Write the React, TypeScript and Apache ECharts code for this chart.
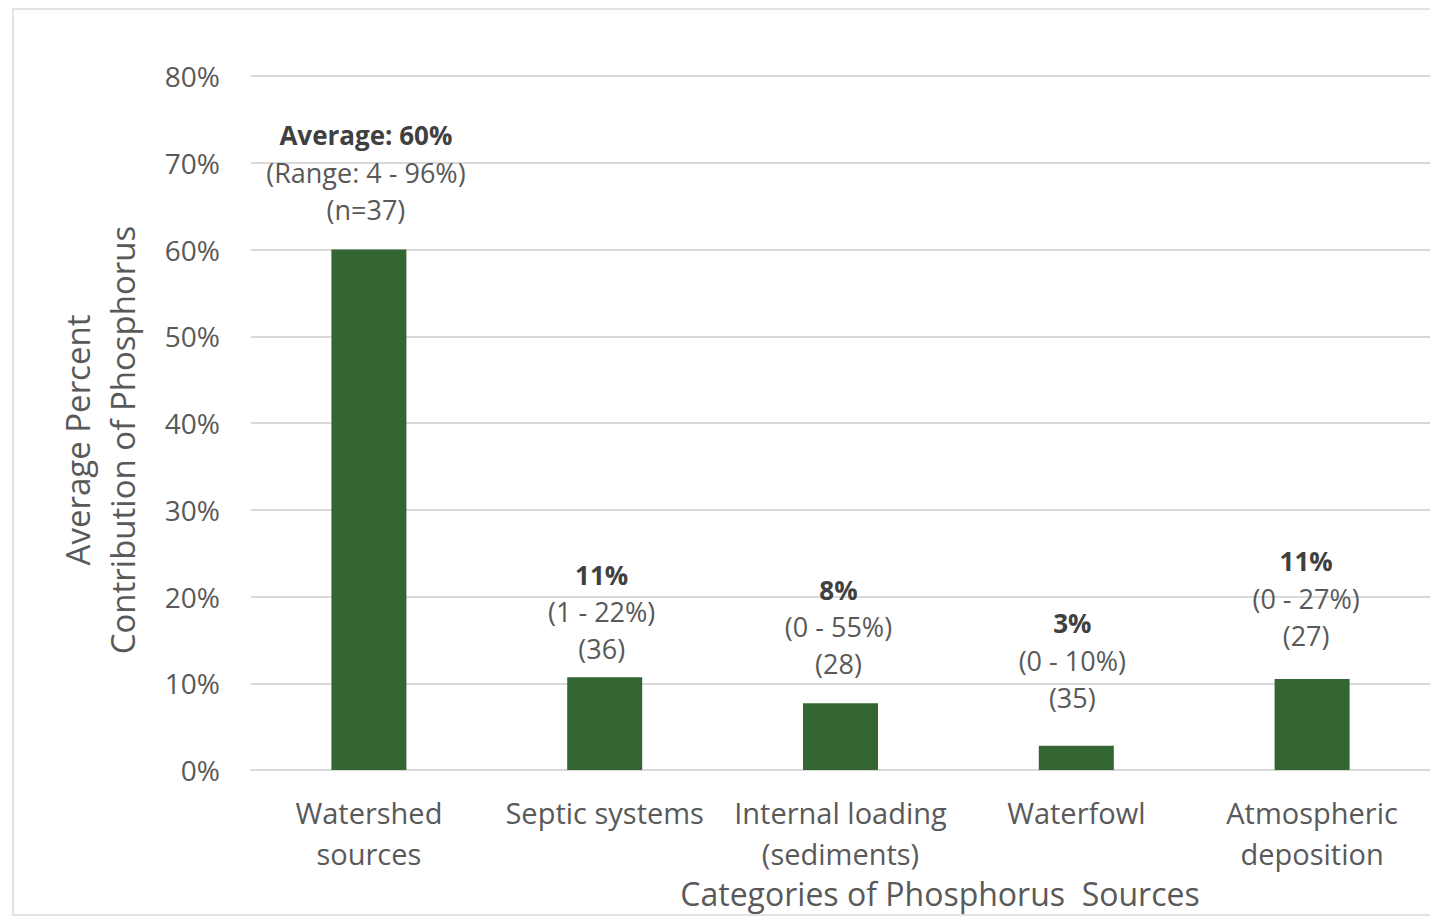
import React, { useEffect, useRef } from "react";
import * as echarts from "echarts";

const categories = [
  "Watershed\nsources",
  "Septic systems",
  "Internal loading\n(sediments)",
  "Waterfowl",
  "Atmospheric\ndeposition",
];
const values = [60, 10.7, 7.7, 2.8, 10.5];
const headLabels = ["Average: 60%", "11%", "8%", "3%", "11%"];
const rangeLabels = ["(Range: 4 - 96%)", "(1 - 22%)", "(0 - 55%)", "(0 - 10%)", "(0 - 27%)"];
const nLabels = ["(n=37)", "(36)", "(28)", "(35)", "(27)"];
const labelDistances = [22, 10, 21, 30, 25];
const labelShiftX = [-3, -3, -2, -4, -6];
const yTicks = [0, 10, 20, 30, 40, 50, 60, 70, 80];

const FONT = "'Open Sans', 'Noto Sans', sans-serif";

export default function App() {
  const ref = useRef<HTMLDivElement>(null);
  useEffect(() => {
    if (!ref.current) return;
    const chart = echarts.init(ref.current, null, { renderer: "svg" });
    const data = values.map((v, i) => ({
      value: v,
      label: {
        show: true,
        position: "top",
        distance: labelDistances[i],
        offset: [labelShiftX[i], 0],
        formatter: `{b|${headLabels[i]}}\n{r|${rangeLabels[i]}}\n{r|${nLabels[i]}}`,
        rich: {
          b: { fontFamily: FONT, fontSize: 26, fontWeight: "bold", color: "#404040", lineHeight: 37, align: "center" },
          r: { fontFamily: FONT, fontSize: 27, color: "#595959", lineHeight: 37, align: "center" },
        },
      },
    }));
    chart.setOption({
      animation: false,
      backgroundColor: "#ffffff",
      grid: { left: 251, right: 0, top: 76, bottom: 149, containLabel: false },
      xAxis: {
        type: "category",
        data: categories,
        axisLine: { show: true, lineStyle: { color: "#d9d9d9", width: 2 } },
        axisTick: { show: false },
        axisLabel: {
          interval: 0,
          margin: 22,
          fontFamily: FONT,
          fontSize: 29,
          color: "#595959",
          lineHeight: 41,
        },
      },
      yAxis: {
        type: "value",
        min: yTicks[0],
        max: yTicks[yTicks.length - 1],
        interval: 10,
        axisLine: { show: false },
        axisTick: { show: false },
        splitLine: { lineStyle: { color: "#d9d9d9", width: 2 } },
        axisLabel: {
          formatter: "{value}%",
          margin: 31,
          fontFamily: FONT,
          fontSize: 28,
          color: "#595959",
        },
      },
      series: [
        {
          type: "bar",
          data,
          barWidth: 75,
          itemStyle: { color: "#336633" },
        },
      ],
      graphic: [
        {
          type: "rect",
          shape: { x: 13, y: 9, width: 1430, height: 906 },
          style: { fill: "none", stroke: "#e3e3e3", lineWidth: 2 },
          silent: true,
          z: -1,
        },
        {
          type: "text",
          x: 77,
          y: 440,
          rotation: Math.PI / 2,
          style: {
            text: "Average Percent",
            fontFamily: FONT,
            fontSize: 33,
            fill: "#595959",
            align: "center",
            verticalAlign: "middle",
          },
        },
        {
          type: "text",
          x: 122,
          y: 440,
          rotation: Math.PI / 2,
          style: {
            text: "Contribution of Phosphorus",
            fontFamily: FONT,
            fontSize: 33,
            fill: "#595959",
            align: "center",
            verticalAlign: "middle",
          },
        },
        {
          type: "text",
          x: 940,
          y: 893,
          style: {
            text: "Categories of Phosphorus  Sources",
            fontFamily: FONT,
            fontSize: 32,
            fill: "#595959",
            align: "center",
            verticalAlign: "middle",
          },
        },
      ],
    });
    return () => chart.dispose();
  }, []);
  return (
    <div
      ref={ref}
      style={{ position: "fixed", left: 0, top: 0, width: 1430, height: 919, background: "#fff" }}
    />
  );
}
